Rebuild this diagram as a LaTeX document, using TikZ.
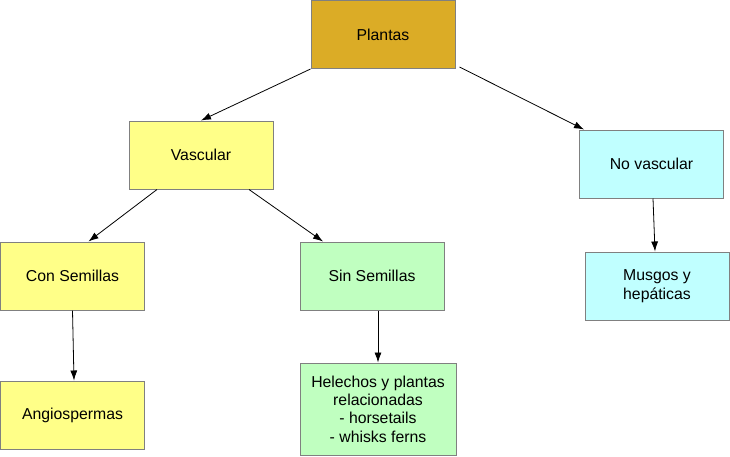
\documentclass[tikz,border=0pt]{standalone}
\usepackage{fontspec}
\setmainfont{Liberation Sans}
\usetikzlibrary{arrows.meta}

\definecolor{oro}{HTML}{DBAC26}
\definecolor{amarillo}{HTML}{FFFF88}
\definecolor{verde}{HTML}{C0FFC0}
\definecolor{celeste}{HTML}{C0FFFF}
\definecolor{borde}{HTML}{808080}

\tikzset{
  caja/.style={draw=borde, line width=1pt, minimum width=144pt, minimum height=68pt,
    align=center, inner sep=2pt, font=\fontsize{15.8}{18.4}\selectfont},
  flecha/.style={->, line width=0.8pt}
}

\begin{document}
\begin{tikzpicture}[x=1pt, y=1pt, >={Latex[length=10pt,width=7pt]}]

        \useasboundingbox (0,0) rectangle (730,-456);

        \node[caja, fill=oro] (plantas) at (383,-34.5) {Plantas};
        \node[caja, fill=amarillo] (vascular) at (201,-155) {Vascular};
        \node[caja, fill=celeste] (novascular) at (651.5,-164) {No vascular};
        \node[caja, fill=amarillo] (consemillas) at (72.5,-276) {Con Semillas};
        \node[caja, fill=verde] (sinsemillas) at (372,-276) {Sin Semillas};
        \node[caja, fill=celeste] (musgos) at (657,-286) {Musgos y\\hepáticas};
        \node[caja, fill=amarillo] (angio) at (72.5,-415) {Angiospermas};
        \node[caja, fill=verde, minimum width=156pt, minimum height=92pt] (helechos)
            at (378,-409) {Helechos y plantas\\relacionadas\\- horsetails\\- whisks ferns};

        \draw[flecha] (plantas.south west) -- (vascular.north);
        \draw[flecha] ([shift={(4pt,2pt)}]plantas.south east) -- ([xshift=5pt]novascular.north west);
        \draw[flecha] ([xshift=-44pt]vascular.south) -- ([xshift=16pt]consemillas.north);
        \draw[flecha] ([xshift=48pt]vascular.south) -- ([xshift=-49pt]sinsemillas.north);
        \draw[flecha] (consemillas.south) -- ([xshift=1.5pt]angio.north);
        \draw[flecha] ([xshift=6pt]sinsemillas.south) -- (helechos.north);
        \draw[flecha] ([xshift=1.5pt]novascular.south) -- ([xshift=-2pt]musgos.north);

    \end{tikzpicture}
\end{document}
